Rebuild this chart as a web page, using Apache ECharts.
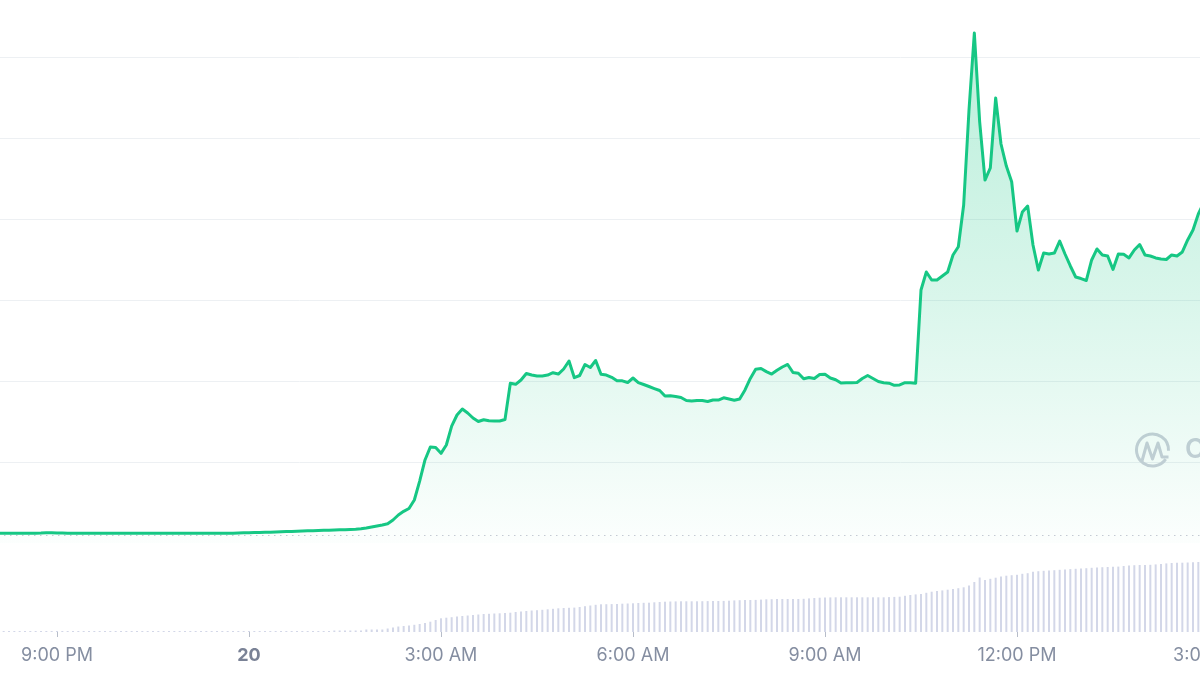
<!DOCTYPE html>
<html><head><meta charset="utf-8">
<script src="https://cdn.jsdelivr.net/npm/echarts@6/dist/echarts.min.js"></script>
<style>html,body{margin:0;padding:0;background:#fff;overflow:hidden}#c{width:1200px;height:675px}</style>
</head><body><div id="c"></div>
<script>
// 5-minute slots starting 20:05 on the 19th
const startHour = 20, startMinute = 5, stepMinutes = 5;
const tickTimes  = ["21:00", "00:00", "03:00", "06:00", "09:00", "12:00", "15:00"];
const tickLabels = ["9:00 PM", "20", "3:00 AM", "6:00 AM", "9:00 AM", "12:00 PM", "3:00 PM"];
const dayTick = "00:00";
const openPrice = 0.099;

// price (relative units, one gridline = 1)
const price = [
 0.119,0.119,0.120,0.120,0.120,0.120,0.120,0.121,0.122,0.126,
 0.126,0.124,0.122,0.121,0.120,0.120,0.121,0.120,0.120,0.120,
 0.120,0.120,0.121,0.120,0.120,0.120,0.120,0.120,0.121,0.120,
 0.120,0.120,0.120,0.120,0.120,0.121,0.120,0.120,0.120,0.120,
 0.120,0.120,0.120,0.121,0.121,0.123,0.126,0.128,0.130,0.131,
 0.132,0.133,0.136,0.138,0.141,0.143,0.146,0.148,0.151,0.152,
 0.154,0.157,0.158,0.160,0.163,0.165,0.168,0.170,0.175,0.185,
 0.198,0.210,0.222,0.237,0.284,0.346,0.391,0.426,0.531,0.765,
 1.025,1.185,1.179,1.107,1.210,1.444,1.580,1.654,1.605,1.543,
 1.500,1.522,1.509,1.506,1.506,1.525,1.972,1.959,2.012,2.093,
 2.074,2.062,2.062,2.074,2.102,2.086,2.148,2.247,2.041,2.068,
 2.204,2.167,2.253,2.083,2.074,2.046,2.004,2.002,1.981,2.037,
 1.981,1.957,1.932,1.907,1.883,1.815,1.817,1.809,1.796,1.759,
 1.753,1.759,1.759,1.747,1.765,1.765,1.793,1.778,1.762,1.778,
 1.889,2.031,2.146,2.154,2.116,2.086,2.132,2.173,2.204,2.105,
 2.095,2.027,2.043,2.031,2.080,2.083,2.037,2.015,1.975,1.979,
 1.979,1.981,2.031,2.068,2.031,1.994,1.979,1.973,1.947,1.951,
 1.979,1.979,1.973,3.123,3.346,3.247,3.247,3.296,3.346,3.556,
 3.658,4.173,5.346,6.296,5.198,4.481,4.630,5.494,4.926,4.654,
 4.460,3.852,4.086,4.160,3.679,3.370,3.580,3.568,3.580,3.728,
 3.568,3.420,3.284,3.265,3.241,3.494,3.630,3.556,3.543,3.377,
 3.568,3.564,3.519,3.617,3.685,3.556,3.543,3.519,3.506,3.500,
 3.556,3.543,3.593,3.741,3.864,4.062,4.198,4.296
];

// volume (relative units)
const volume = [
 0,0,0,0,0,0,0,0,0,0,
 0,0,0,0,0,0,0,0,0,0,
 0,0,0,0,0,0,0,0,0,0,
 0,0,0,0,0,0,0,0,0,0,
 0,0,0,0,0,0,0,0,0,0,
 0,0,0,0,0,0,0,1,1,1,
 1,1,1,1.5,1.5,1.5,1.5,1.5,1.5,2.5,
 2.5,2.5,2.5,3.5,4.5,5.5,6,6.5,7.2,8,
 9,10.3,12,13.7,14.3,14.8,15.5,16,16.5,17,
 17.5,18,18.2,18.5,18.7,19,19.3,20,20.5,21,
 21.5,21.8,22.2,22.7,23.2,23.7,24,24.2,24.4,25,
 25.8,26.5,27.2,27.7,27.8,27.9,28,28.3,28.5,28.7,
 29,29.2,29.3,29.7,30,30.3,30.5,30.6,30.7,30.7,
 30.7,30.7,30.8,30.9,31,31,31.1,31.3,31.6,31.8,
 32,32,32.1,32.4,32.7,32.8,33,33,33,33,
 33,33.2,33.6,34,34.3,34.5,34.6,34.7,34.7,34.7,
 34.7,34.7,34.7,34.7,34.7,34.7,34.7,34.9,35.1,35.3,
 36.2,37,37.6,38,39.2,40.3,41,41.6,42.3,43,
 43.8,44.7,46.5,50,54.5,52,53.2,54.3,55.5,56.3,
 56.8,57.2,58.2,58.8,60.2,60.8,61.2,61.4,61.8,62.2,
 62.6,62.9,63.2,63.5,63.8,64.2,64.5,64.8,65,65.2,
 65.4,66,66.5,66.8,67,67.1,67.2,67.6,68.1,68.6,
 69,69.2,69.3,69.5,69.8,70,70.2,70.4
];

const categories = [];
for (let i = 0; i < price.length; i++) {
  const m = (startHour * 60 + startMinute + i * stepMinutes) % 1440;
  const hh = String(Math.floor(m / 60)).padStart(2, '0');
  const mm = String(m % 60).padStart(2, '0');
  categories.push(hh + ':' + mm);
}
const isTick = (idx, val) => tickTimes.indexOf(val) >= 0;

const chart = echarts.init(document.getElementById('c'), null, {renderer: 'canvas'});
const GREEN = '#16c784';
const gridColors = ['rgba(0,0,0,0)'].concat(new Array(7).fill('#edf0f3'));

chart.setOption({
  animation: false,
  backgroundColor: '#ffffff',
  grid: [
    {left: -1.667, right: -9, top: -24, bottom: 132, outerBoundsMode: 'none', containLabel: false},
    {left: -1.667, right: -9, top: 542, bottom: 43, outerBoundsMode: 'none', containLabel: false}
  ],
  xAxis: [
    {type: 'category', gridIndex: 0, data: categories, boundaryGap: false, show: false},
    {type: 'category', gridIndex: 1, data: categories, boundaryGap: false,
     axisLine: {show: false},
     axisTick: {show: true, interval: isTick, length: 5, lineStyle: {color: '#b7bdc9', width: 1}},
     axisLabel: {
       interval: isTick, margin: 15, fontFamily: 'Inter', fontSize: 18, color: '#858ea1',
       formatter: v => {
         const k = tickTimes.indexOf(v);
         if (k < 0) return '';
         return v === dayTick ? '{d|' + tickLabels[k] + '}' : tickLabels[k];
       },
       rich: {d: {fontFamily: 'Inter', fontSize: 18, fontWeight: 'bold', color: '#7a8296'}}
     }}
  ],
  yAxis: [
    {type: 'value', gridIndex: 0, min: 0, max: 7, interval: 1,
     axisLabel: {show: false}, axisLine: {show: false}, axisTick: {show: false},
     splitLine: {show: true, lineStyle: {color: gridColors, width: 1}}},
    {type: 'value', gridIndex: 1, min: 0, max: 90,
     axisLabel: {show: false}, axisLine: {show: false}, axisTick: {show: false},
     splitLine: {show: false}}
  ],
  series: [
    {type: 'line', xAxisIndex: 0, yAxisIndex: 0, data: price, symbol: 'none',
     lineStyle: {color: GREEN, width: 3, join: 'round'}, itemStyle: {color: GREEN},
     areaStyle: {color: new echarts.graphic.LinearGradient(0, 0, 0, 1, [
       {offset: 0, color: 'rgba(22,199,132,0.42)'},
       {offset: 0.5, color: 'rgba(22,199,132,0.24)'},
       {offset: 1, color: 'rgba(22,199,132,0.02)'}
     ])},
     markLine: {silent: true, symbol: ['none', 'none'], label: {show: false},
       lineStyle: {type: [1, 5], color: '#a9b1bf', width: 1},
       data: [{yAxis: openPrice}]},
     z: 3},
    {type: 'bar', xAxisIndex: 1, yAxisIndex: 1, data: volume, barWidth: 2, barMinHeight: 1,
     itemStyle: {color: '#d3d7e8'}}
  ],
  graphic: [
    {type: 'arc', shape: {cx: 1152.5, cy: 450, r: 16, startAngle: 0.6, endAngle: Math.PI * 2 + 0.05},
     style: {stroke: '#cbcfd9', lineWidth: 3, fill: null}, z: 1},
    {type: 'polyline', shape: {points: [[1142, 461], [1147, 443], [1152.5, 459], [1158, 443], [1162, 457], [1168.5, 457]]},
     style: {stroke: '#cbcfd9', lineWidth: 3, fill: null, lineJoin: 'round'}, z: 1},
    {type: 'text', left: 1185, top: 436,
     style: {text: 'CoinMarketCap', fontFamily: 'Inter', fontSize: 27, fontWeight: 600, fill: '#cbcfd9'}, z: 1}
  ]
});
</script>
</body></html>
